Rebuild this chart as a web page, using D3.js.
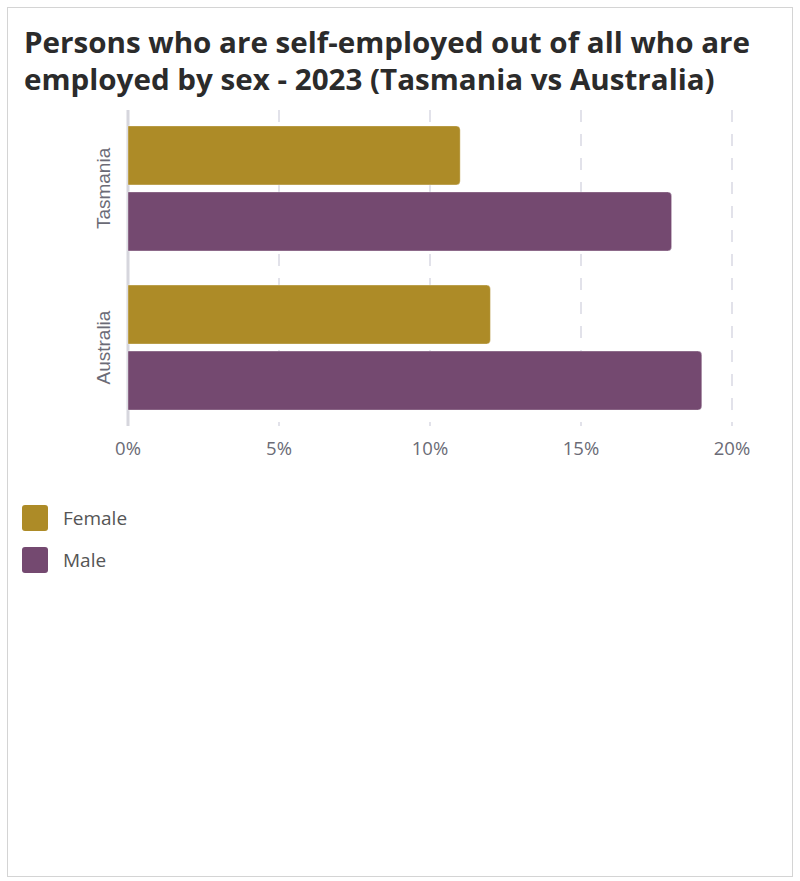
<!DOCTYPE html>
<html lang="en">
<head>
  <meta charset="utf-8">
  <title>Self-employed by sex - 2023</title>
  <script src="https://d3js.org/d3.v7.min.js"></script>
  <style>
    body { margin: 0; background: #fff; }
    svg { display: block; }
  </style>
</head>
<body>
  <svg id="chart"></svg>
  <script>
    const regions = ["Tasmania", "Australia"];
    const sexes = ["Female", "Male"];
    const female = [11, 12];
    const male = [18, 19];
    const xTicks = [0, 5, 10, 15, 20];
    const colours = ["#ad8b27", "#744970"];
    const titleLines = [
      "Persons who are self-employed out of all who are",
      "employed by sex - 2023 (Tasmania vs Australia)"
    ];

    const W = 800, H = 881;
    const svg = d3.select("#chart").attr("width", W).attr("height", H);

    // card
    svg.append("rect")
      .attr("x", 7.5).attr("y", 7.5)
      .attr("width", 785).attr("height", 869)
      .attr("fill", "#fff")
      .attr("stroke", "#d4d4d4");

    // title (slightly widened, as in the original)
    const title = svg.append("g").attr("transform", "translate(24,0) scale(1.057,1)");
    titleLines.forEach((t, i) => {
      title.append("text")
        .attr("x", 0)
        .attr("y", 53 + i * 37)
        .attr("font-family", "'Open Sans', sans-serif")
        .attr("font-weight", 700)
        .attr("font-size", 28)
        .attr("fill", "#2b2b2b")
        .text(t);
    });

    const x = d3.scaleLinear().domain([0, 20]).range([128, 732]);
    const y = d3.scaleBand().domain(regions).range([110, 426]).paddingInner(0.214).paddingOuter(0.1);
    const ySub = d3.scaleBand().domain(sexes).range([0, y.bandwidth()]).paddingInner(0.106);

    // grid
    svg.append("g")
      .selectAll("line")
      .data(xTicks.slice(1))
      .join("line")
      .attr("x1", d => x(d)).attr("x2", d => x(d))
      .attr("y1", 110).attr("y2", 426)
      .attr("stroke", "#d9d9e3")
      .attr("stroke-width", 1.5)
      .attr("stroke-dasharray", "12,12");

    // axis line
    svg.append("line")
      .attr("x1", x(0)).attr("x2", x(0))
      .attr("y1", 110).attr("y2", 426)
      .attr("stroke", "#d6d6dd")
      .attr("stroke-width", 3);

    // bars, rounded on the right end only
    function barPath(x0, y0, x1, h, r) {
      return `M${x0},${y0}H${x1 - r}Q${x1},${y0} ${x1},${y0 + r}V${y0 + h - r}Q${x1},${y0 + h} ${x1 - r},${y0 + h}H${x0}Z`;
    }

    const rows = regions.map((reg, i) => ({ region: reg, values: [female[i], male[i]] }));
    const groups = svg.append("g").selectAll("g")
      .data(rows)
      .join("g")
      .attr("transform", d => `translate(0,${y(d.region)})`);

    groups.selectAll("path")
      .data(d => d.values.map((v, j) => ({ sex: sexes[j], value: v, c: colours[j] })))
      .join("path")
      .attr("d", d => barPath(x(0), ySub(d.sex), x(d.value), ySub.bandwidth(), 4))
      .attr("fill", d => d.c)
      .attr("stroke", "#fff")
      .attr("stroke-opacity", 0.35)
      .attr("stroke-width", 1);

    // x tick labels
    svg.append("g")
      .selectAll("text")
      .data(xTicks)
      .join("text")
      .attr("x", d => x(d))
      .attr("y", 455)
      .attr("text-anchor", "middle")
      .attr("font-family", "'Open Sans', sans-serif")
      .attr("font-size", 18.5)
      .attr("fill", "#6b6b76")
      .text(d => d + "%");

    // category labels
    svg.append("g")
      .selectAll("text")
      .data(regions)
      .join("text")
      .attr("transform", d => `translate(110,${y(d) + y.bandwidth() / 2}) rotate(-90)`)
      .attr("text-anchor", "middle")
      .attr("font-family", "'Liberation Sans', Arial, sans-serif")
      .attr("font-size", 19)
      .attr("fill", "#6b6b76")
      .text(d => d);

    // legend
    const legend = svg.append("g").selectAll("g")
      .data(sexes)
      .join("g")
      .attr("transform", (d, i) => `translate(22,${505 + i * 42})`);
    legend.append("rect")
      .attr("width", 26).attr("height", 26).attr("rx", 3)
      .attr("fill", (d, i) => colours[i]);
    legend.append("text")
      .attr("x", 41).attr("y", 20)
      .attr("font-family", "'Open Sans', sans-serif")
      .attr("font-size", 19)
      .attr("fill", "#555")
      .text(d => d);
  </script>
</body>
</html>
